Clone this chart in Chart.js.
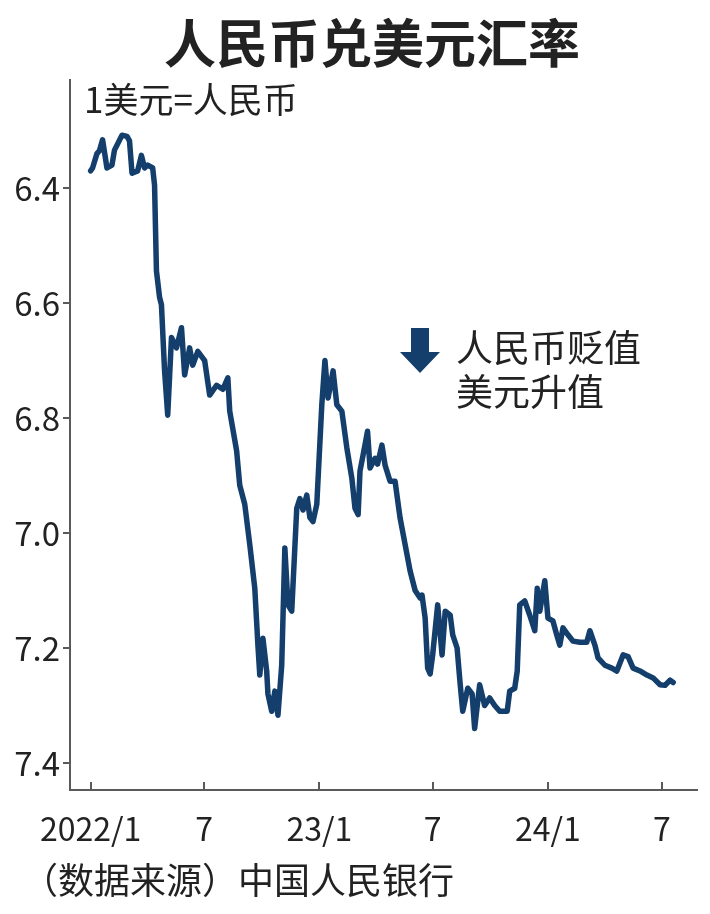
<!DOCTYPE html>
<html lang="zh-CN">
<head>
<meta charset="utf-8">
<title>人民币兑美元汇率</title>
<script src="https://cdn.jsdelivr.net/npm/chart.js@4.4.1/dist/chart.umd.min.js"></script>
<style>
    html, body { margin: 0; padding: 0; background: #fff; }
    #wrap { width: 710px; height: 914px; }
</style>
</head>
<body>
<div id="wrap"><canvas id="rateChart" width="710" height="914"></canvas></div>
<script>
// 1 USD = ? CNY
const dates = [
    '2022-01-01', '2022-01-04', '2022-01-11', '2022-01-15', '2022-01-20', '2022-01-27', '2022-02-04', '2022-02-08',
    '2022-02-20', '2022-02-28', '2022-03-04', '2022-03-08', '2022-03-17', '2022-03-23', '2022-03-28', '2022-04-02',
    '2022-04-10', '2022-04-13', '2022-04-16', '2022-04-21', '2022-04-24', '2022-04-29', '2022-05-04', '2022-05-10',
    '2022-05-18', '2022-05-26', '2022-05-31', '2022-06-08', '2022-06-13', '2022-06-21', '2022-07-02', '2022-07-10',
    '2022-07-21', '2022-07-31', '2022-08-08', '2022-08-11', '2022-08-22', '2022-08-27', '2022-09-04', '2022-09-12',
    '2022-09-20', '2022-09-25', '2022-09-28', '2022-10-03', '2022-10-09', '2022-10-11', '2022-10-17', '2022-10-22',
    '2022-10-27', '2022-11-02', '2022-11-07', '2022-11-12', '2022-11-18', '2022-11-26', '2022-12-01', '2022-12-06',
    '2022-12-12', '2022-12-17', '2022-12-22', '2022-12-28', '2023-01-05', '2023-01-10', '2023-01-15', '2023-01-23',
    '2023-01-29', '2023-02-06', '2023-02-14', '2023-02-22', '2023-02-27', '2023-03-04', '2023-03-07', '2023-03-12',
    '2023-03-19', '2023-03-23', '2023-03-31', '2023-04-04', '2023-04-11', '2023-04-16', '2023-04-24', '2023-05-02',
    '2023-05-10', '2023-05-18', '2023-05-26', '2023-06-03', '2023-06-11', '2023-06-14', '2023-06-19', '2023-06-23',
    '2023-06-27', '2023-07-01', '2023-07-09', '2023-07-16', '2023-07-21', '2023-07-29', '2023-08-02', '2023-08-09',
    '2023-08-14', '2023-08-18', '2023-08-26', '2023-09-02', '2023-09-06', '2023-09-14', '2023-09-22', '2023-09-30',
    '2023-10-08', '2023-10-16', '2023-10-28', '2023-11-01', '2023-11-09', '2023-11-13', '2023-11-17', '2023-11-25',
    '2023-12-03', '2023-12-11', '2023-12-15', '2023-12-19', '2023-12-27', '2024-01-01', '2024-01-09', '2024-01-15',
    '2024-01-20', '2024-01-25', '2024-02-02', '2024-02-10', '2024-02-21', '2024-03-03', '2024-03-08', '2024-03-16',
    '2024-03-21', '2024-04-01', '2024-04-12', '2024-04-20', '2024-04-30', '2024-05-08', '2024-05-16', '2024-05-27',
    '2024-06-07', '2024-06-17', '2024-06-28', '2024-07-06', '2024-07-14', '2024-07-19'
];
const rates = [
    6.370, 6.365, 6.340, 6.335, 6.316, 6.365, 6.360, 6.334,
    6.308, 6.310, 6.318, 6.374, 6.370, 6.343, 6.365, 6.360,
    6.365, 6.395, 6.544, 6.590, 6.603, 6.718, 6.795, 6.660,
    6.678, 6.643, 6.725, 6.678, 6.708, 6.684, 6.700, 6.760,
    6.743, 6.750, 6.730, 6.788, 6.857, 6.917, 6.950, 7.020,
    7.096, 7.195, 7.247, 7.183, 7.240, 7.280, 7.310, 7.275,
    7.317, 7.230, 7.026, 7.125, 7.136, 6.957, 6.940, 6.960,
    6.934, 6.973, 6.980, 6.950, 6.777, 6.700, 6.765, 6.718,
    6.777, 6.788, 6.852, 6.905, 6.957, 6.968, 6.892, 6.864,
    6.823, 6.887, 6.870, 6.880, 6.847, 6.882, 6.910, 6.910,
    6.974, 7.020, 7.066, 7.100, 7.113, 7.108, 7.148, 7.235,
    7.245, 7.212, 7.125, 7.212, 7.136, 7.143, 7.177, 7.200,
    7.264, 7.310, 7.270, 7.280, 7.340, 7.264, 7.300, 7.287,
    7.300, 7.310, 7.310, 7.275, 7.270, 7.240, 7.125, 7.118,
    7.143, 7.170, 7.096, 7.136, 7.083, 7.148, 7.153, 7.177,
    7.195, 7.165, 7.177, 7.188, 7.190, 7.190, 7.170, 7.195,
    7.217, 7.230, 7.235, 7.240, 7.212, 7.215, 7.235, 7.240,
    7.247, 7.252, 7.264, 7.265, 7.256, 7.260
];

const tickDates = ['2022-01-01', '2022-07-01', '2023-01-01', '2023-07-01', '2024-01-01', '2024-07-01'];
const tickLabels = ['2022/1', '7', '23/1', '7', '24/1', '7'];
const yTicks = [6.4, 6.6, 6.8, 7.0, 7.2, 7.4];
const xRange = ['2021-11-29', '2024-08-26'];
const yRange = [6.212, 7.447];

const LINE_COLOR = '#143e6c';
const AXIS_COLOR = '#5a5a5a';
const TEXT_COLOR = '#222222';
const CJK_FONT = '"Noto Sans CJK SC", "Noto Sans", sans-serif';
const NUM_FONT = '"Noto Sans CJK SC", "Noto Sans", sans-serif';

// days since 2022-01-01, so the x scale can stay linear
const toDay = (s) => {
    const [y, m, d] = s.split('-').map(Number);
    return Math.round((Date.UTC(y, m - 1, d) - Date.UTC(2022, 0, 1)) / 86400000);
};

const points = dates.map((d, i) => ({ x: toDay(d), y: rates[i] }));
const xTickValues = tickDates.map(toDay);

const decorPlugin = {
    id: 'decor',
    afterDraw(chart) {
        const { ctx, chartArea } = chart;
        const xScale = chart.scales.x;
        ctx.save();

        // x ticks point up into the plot
        ctx.strokeStyle = AXIS_COLOR;
        ctx.lineWidth = 2;
        xTickValues.forEach(v => {
            const px = Math.round(xScale.getPixelForValue(v));
            ctx.beginPath();
            ctx.moveTo(px, chartArea.bottom);
            ctx.lineTo(px, chartArea.bottom - 8);
            ctx.stroke();
        });

        ctx.fillStyle = TEXT_COLOR;
        ctx.textBaseline = 'middle';
        ctx.textAlign = 'center';
        ctx.font = `bold 52px ${CJK_FONT}`;
        ctx.fillText('人民币兑美元汇率', 372, 43);

        ctx.textAlign = 'left';
        ctx.font = `35px ${CJK_FONT}`;
        ctx.fillText('1美元=人民币', 84, 100);

        ctx.font = `37px ${CJK_FONT}`;
        ctx.fillText('人民币贬值', 456, 348);
        ctx.fillText('美元升值', 456, 392);

        ctx.font = `36px ${CJK_FONT}`;
        ctx.fillText('（数据来源）中国人民银行', 22, 880);

        // down arrow next to the note
        ctx.fillStyle = LINE_COLOR;
        ctx.beginPath();
        ctx.moveTo(411, 328);
        ctx.lineTo(429, 328);
        ctx.lineTo(429, 352);
        ctx.lineTo(440, 352);
        ctx.lineTo(420, 373);
        ctx.lineTo(400, 352);
        ctx.lineTo(411, 352);
        ctx.closePath();
        ctx.fill();

        ctx.restore();
    }
};

new Chart(document.getElementById('rateChart'), {
    type: 'line',
    data: {
        datasets: [{
            data: points,
            borderColor: LINE_COLOR,
            borderWidth: 5.5,
            borderJoinStyle: 'round',
            borderCapStyle: 'round',
            pointRadius: 0,
            tension: 0,
            fill: false
        }]
    },
    options: {
        responsive: false,
        animation: false,
        devicePixelRatio: 1,
        layout: { padding: { top: 80, right: 13, bottom: 0, left: 0 } },
        plugins: {
            legend: { display: false },
            tooltip: { enabled: false }
        },
        scales: {
            x: {
                type: 'linear',
                min: toDay(xRange[0]),
                max: toDay(xRange[1]),
                afterFit: (scale) => { scale.height = 124; },
                afterBuildTicks: (scale) => { scale.ticks = xTickValues.map(v => ({ value: v })); },
                grid: { display: false },
                border: { display: true, color: AXIS_COLOR, width: 2 },
                ticks: {
                    padding: 12,
                    color: TEXT_COLOR,
                    font: { family: NUM_FONT, size: 32 },
                    maxRotation: 0,
                    autoSkip: false,
                    callback: (value) => tickLabels[xTickValues.indexOf(value)] ?? ''
                }
            },
            y: {
                type: 'linear',
                reverse: true,
                min: yRange[0],
                max: yRange[1],
                afterFit: (scale) => { scale.width = 70; },
                afterBuildTicks: (scale) => { scale.ticks = yTicks.map(v => ({ value: v })); },
                grid: {
                    drawOnChartArea: false,
                    drawTicks: true,
                    tickLength: 7,
                    color: AXIS_COLOR,
                    lineWidth: 2
                },
                border: { display: true, color: AXIS_COLOR, width: 2 },
                ticks: {
                    padding: 3,
                    color: TEXT_COLOR,
                    font: { family: NUM_FONT, size: 33 },
                    callback: (value) => value.toFixed(1)
                }
            }
        }
    },
    plugins: [decorPlugin]
});
</script>
</body>
</html>
